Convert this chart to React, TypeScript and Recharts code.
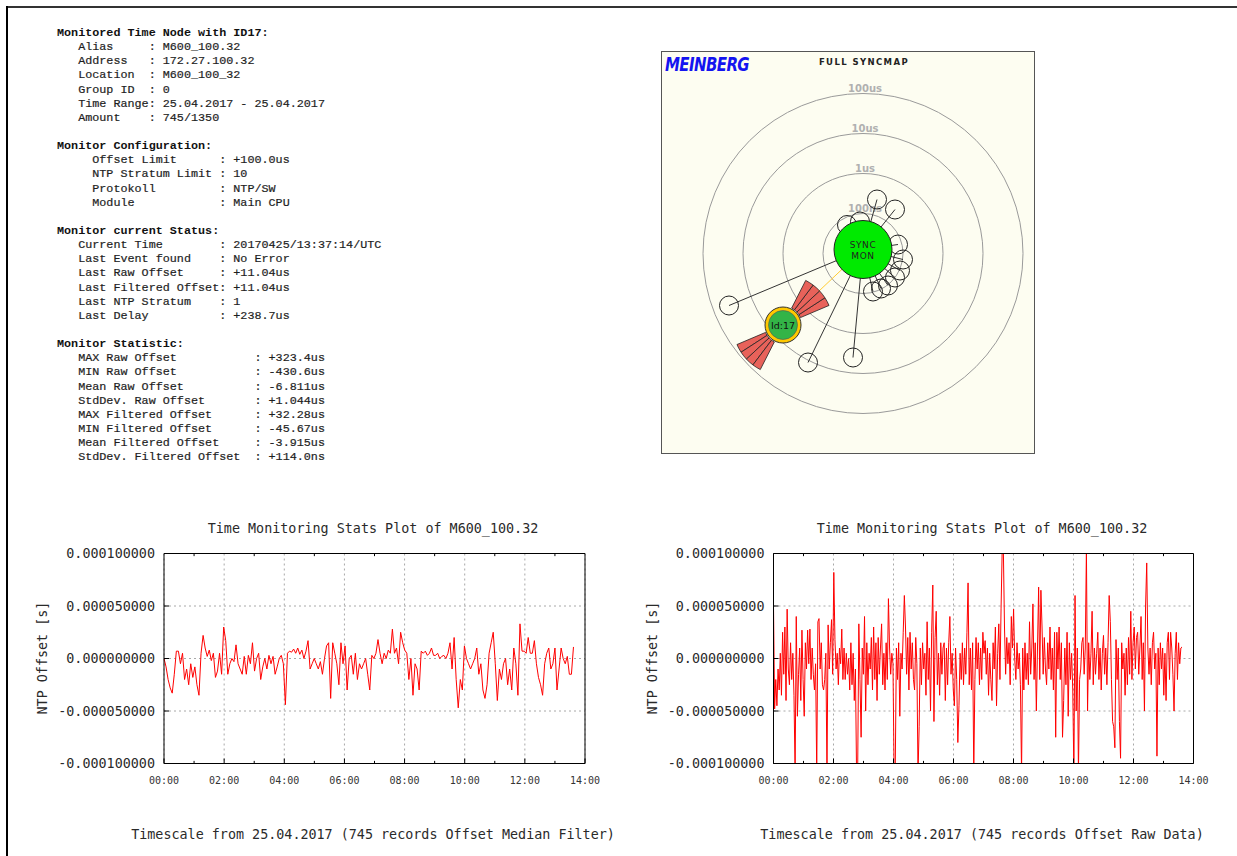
import React from 'react'
import {
  LineChart,
  Line,
  XAxis,
  YAxis,
  CartesianGrid,
  ReferenceLine,
  ScatterChart,
  Scatter,
  Sector,
} from 'recharts'

// ─── Data ───────────────────────────────────────────────────────────────────

// last record at 13:37 (see "Current Time")
const LAST_RECORD_HOURS = 13 + 37 / 60

const FILTERED_OFFSET_US = [
  0, -8, -20, -28, -33, -15, 7, 7, -5, 5,
  -20, -10, -25, -5, -18, -8, -25, -35, 5, 22,
  10, 2, 8, -2, 5, -18, -12, 5, -15, 30,
  17, -15, -5, 0, -3, 13, -5, -10, -15, 2,
  -15, 3, -5, 15, -12, 0, 5, -20, -8, 0,
  -10, 3, -5, 2, -15, -8, 0, 3, -5, -44,
  5, 7, 6, 9, 5, 10, 4, 8, 0, 7,
  17, -10, -5, 0, -5, -10, -3, -15, 0, 12,
  15, -38, 15, 5, -5, -25, 15, -5, 12, -30,
  0, 3, -15, 5, -20, -5, -10, -5, 0, -15,
  -30, 3, 0, 5, 18, 5, -5, 5, 0, 8,
  5, 28, 5, 10, -5, 25, 15, 8, 5, -20,
  0, -35, -5, -10, -30, 7, 5, 7, 3, 5,
  10, 3, 3, 5, 0, 2, 3, 0, 5, 15,
  -10, 20, -20, -47, -20, -30, 12, 0, -5, -10,
  -5, 0, 10, -15, -5, -30, -38, -25, 5, 15,
  25, -5, -40, -10, -20, -5, 0, -25, -10, -30,
  10, -5, -35, 33, 7, 7, 5, 20, 5, 5,
  17, -5, -18, -25, -35, -5, 5, 10, -10, -5,
  10, -30, -10, 10, 0, -5, 2, -15, -15, 11,
]

const RAW_OFFSET_US = [
  50, -48, -20, -45, -10, -30, 5, -35, 25, -15, 30, -40, 47, -10, -25,
  15, -20, 5, -35, -110, 40, -55, -15, 10, -40, 27, -20, -55, 15, -10,
  27, -5, 28, -20, 10, -15, -30, -5, -110, 35, 38, -10, 15, -25, -30,
  -20, 5, -110, 32, -10, 15, 37, -15, 82, 18, -10, 5, -25, 10, -5,
  28, -20, 10, -20, 5, -15, 0, -30, 15, -25, 5, -40, -10, -110, -105,
  33, -20, -75, 10, -15, 40, -50, 15, -25, 5, -10, 20, -30, 30, -20,
  15, -40, 20, -15, 10, 33, -25, 5, -30, 15, -20, 57, 10, -15, 5,
  -5, -110, -105, 10, -20, 15, -55, 5, -10, 25, 60, 30, -15, 20, -30,
  25, -10, 15, -20, -30, 20, -5, -110, -65, 10, -25, 15, -10, 5, -35,
  35, -20, 10, -50, 25, 70, -60, 20, 45, -25, 5, -35, 15, -15, 10,
  15, -40, 10, -25, 15, 40, -15, 5, -30, -45, 10, -20, -80, -45, 5,
  -20, 15, -25, 10, -15, 25, 72, -25, 10, -30, 15, -110, -20, 20, -10,
  15, -25, 10, -20, 25, 5, 17, -15, 10, -35, 5, -20, -40, 15, -10,
  30, -45, 5, 33, -20, 48, 105, 105, 30, -15, 20, -5, 15, -25, 40,
  10, 47, 0, -20, 15, -10, 5, -25, -110, 10, -30, 15, -20, 5, -25,
  35, -15, 10, 52, -20, 15, -50, 10, 68, -20, 65, 30, -15, 20, -10,
  -25, 15, -10, 30, -20, 10, -30, 25, -75, 25, -10, 30, -20, 15, -75,
  -40, 10, -25, 25, -55, 15, -20, 5, -30, -110, 60, -50, 10, -110, -20,
  -10, 15, 20, -15, 10, 105, -50, 15, -20, 5, 45, -25, 10, -15, 5,
  25, -20, 10, -30, 5, 22, -15, 10, -25, 15, 60, 35, -20, -60, -65,
  -85, 18, -20, 10, -60, -95, 15, -10, 5, -35, 10, -25, 20, -15, 45,
  -20, 15, 30, -10, 20, 25, -15, 10, 40, -20, 15, -50, 50, 91, 10,
  -15, 10, -25, 15, 25, -10, 5, -93, 10, -25, 15, -10, 10, -35, 5,
  -40, 15, 25, -20, 25, 10, -15, -50, 5, 25, -20, 15, -5, 10, 11,
]

const HOUR_TICKS = [0, 2, 4, 6, 8, 10, 12, 14]
const MINOR_HOURS = [1, 3, 5, 7, 9, 11, 13]
const OFFSET_TICKS_US = [-100, -50, 0, 50, 100]

// syncmap: rings (radius, label) and peer positions relative to the ring centre
const RING_RADII = [40, 80, 120, 160]
const RING_LABELS = ['100ns', '1us', '10us', '100us']
const PEER_X = [14, 32, -16, -3, 35, 40, 37, 32, 25, 18, 10, -134, -55, -10]
const PEER_Y = [54, 44, 28.5, 32, 9, -6, -17, -24, -32, -35, -38, -52, -109, -104]
const SYNC_POS = { x: 0, y: 4 }
const TARGET_POS = { x: -80, y: -71.5 }
const BOWTIE_EDGES = [23, 33, 43, 53, 63]

// ─── Text panel ─────────────────────────────────────────────────────────────

const INFO_LINES = [
  'Monitored Time Node with ID17:',
  '   Alias     : M600_100.32',
  '   Address   : 172.27.100.32',
  '   Location  : M600_100_32',
  '   Group ID  : 0',
  '   Time Range: 25.04.2017 - 25.04.2017',
  '   Amount    : 745/1350',
  '',
  'Monitor Configuration:',
  '     Offset Limit      : +100.0us',
  '     NTP Stratum Limit : 10',
  '     Protokoll         : NTP/SW',
  '     Module            : Main CPU',
  '',
  'Monitor current Status:',
  '   Current Time        : 20170425/13:37:14/UTC',
  '   Last Event found    : No Error',
  '   Last Raw Offset     : +11.04us',
  '   Last Filtered Offset: +11.04us',
  '   Last NTP Stratum    : 1',
  '   Last Delay          : +238.7us',
  '',
  'Monitor Statistic:',
  '   MAX Raw Offset           : +323.4us',
  '   MIN Raw Offset           : -430.6us',
  '   Mean Raw Offset          : -6.811us',
  '   StdDev. Raw Offset       : +1.044us',
  '   MAX Filtered Offset      : +32.28us',
  '   MIN Filtered Offset      : -45.67us',
  '   Mean Filtered Offset     : -3.915us',
  '   StdDev. Filtered Offset  : +114.0ns',
]

function InfoPanel() {
  return (
    <div
      style={{
        position: 'absolute',
        left: 57,
        top: 26,
        fontFamily: '"Liberation Mono", monospace',
        fontSize: 11.75,
        lineHeight: '14.15px',
        color: '#1e1e1e',
        whiteSpace: 'pre',
      }}
    >
      {INFO_LINES.map((line, i) => (
        <div
          key={i}
          style={{
            height: 14.15,
            fontWeight: line.startsWith('Monitor') ? 'bold' : 'normal',
            color: line.startsWith('Monitor') ? '#111' : '#1e1e1e',
            WebkitTextStroke: line.startsWith('Monitor') ? undefined : '0.2px #1e1e1e',
          }}
        >
          {line}
        </div>
      ))}
    </div>
  )
}

// ─── Syncmap ────────────────────────────────────────────────────────────────

const EmptyShape = () => <g />

// the chart area is sized so that one data unit is one pixel
// eslint-disable-next-line @typescript-eslint/no-explicit-any
function RingShape(props: any) {
  const { cx, cy, payload } = props
  return (
    <g>
      <circle cx={cx} cy={cy} r={payload.r} fill="none" stroke="#9a9a9a" strokeWidth={1} />
      <text
        x={cx + 2}
        y={cy - payload.r - 2}
        textAnchor="middle"
        fontSize={10}
        fontWeight="bold"
        fontFamily="DejaVu Sans"
        fill="#b0b0b0"
      >
        {payload.label}
      </text>
    </g>
  )
}

// eslint-disable-next-line @typescript-eslint/no-explicit-any
function PeerShape(props: any) {
  return <circle cx={props.cx} cy={props.cy} r={9.5} fill="none" stroke="#222" strokeWidth={1} />
}

// eslint-disable-next-line @typescript-eslint/no-explicit-any
function SyncShape(props: any) {
  const { cx, cy } = props
  return (
    <g>
      <circle cx={cx} cy={cy} r={29} fill="#00ea00" stroke="#222" strokeWidth={1} />
      <text x={cx} y={cy - 2} textAnchor="middle" fontSize={9} fontFamily="DejaVu Sans" letterSpacing={0.6} fill="#222">
        SYNC
      </text>
      <text x={cx} y={cy + 9} textAnchor="middle" fontSize={9} fontFamily="DejaVu Sans" letterSpacing={0.6} fill="#222">
        MON
      </text>
    </g>
  )
}

// eslint-disable-next-line @typescript-eslint/no-explicit-any
function TargetShape(props: any) {
  const { cx, cy } = props
  const segs = BOWTIE_EDGES.slice(0, -1)
  return (
    <g>
      {[0, 180].map((off) =>
        segs.map((a, k) => (
          <Sector
            key={`${off}-${k}`}
            cx={cx}
            cy={cy}
            innerRadius={19}
            outerRadius={50}
            startAngle={a + off}
            endAngle={BOWTIE_EDGES[k + 1] + off}
            fill="#e8625a"
            stroke="#222"
            strokeWidth={0.8}
          />
        ))
      )}
      <circle cx={cx} cy={cy} r={18} fill="#ffc800" stroke="#333" strokeWidth={1} />
      <circle cx={cx} cy={cy} r={14.5} fill="#33b447" stroke="#555" strokeWidth={0.6} />
      <text x={cx} y={cy + 3.5} textAnchor="middle" fontSize={9.5} fontFamily="DejaVu Sans" fill="#111">
        Id:17
      </text>
    </g>
  )
}

function SyncMap() {
  const rings = RING_RADII.map((r, i) => ({ x: 0, y: 0, r, label: RING_LABELS[i] }))
  const peers = PEER_X.map((x, i) => ({ x, y: PEER_Y[i] }))
  return (
    <div
      style={{
        position: 'absolute',
        left: 661,
        top: 51,
        width: 374,
        height: 403,
        boxSizing: 'border-box',
        border: '1px solid #555',
        background: '#fdfdf1',
      }}
    >
      <ScatterChart width={372} height={401} margin={{ top: 0, right: 0, bottom: 0, left: 0 }}>
        <XAxis type="number" dataKey="x" domain={[-201, 171]} hide allowDataOverflow />
        <YAxis type="number" dataKey="y" domain={[-199.5, 201.5]} hide allowDataOverflow />
        <Scatter data={rings} shape={RingShape} isAnimationActive={false} />
        {peers.map((p, i) => (
          <Scatter
            key={i}
            data={[SYNC_POS, p]}
            line={{ stroke: '#333', strokeWidth: 1 }}
            shape={EmptyShape}
            isAnimationActive={false}
          />
        ))}
        <Scatter
          data={[SYNC_POS, TARGET_POS]}
          line={{ stroke: '#ffcc33', strokeWidth: 1 }}
          shape={EmptyShape}
          isAnimationActive={false}
        />
        <Scatter data={peers} shape={PeerShape} isAnimationActive={false} />
        <Scatter data={[TARGET_POS]} shape={TargetShape} isAnimationActive={false} />
        <Scatter data={[SYNC_POS]} shape={SyncShape} isAnimationActive={false} />
      </ScatterChart>
      <div
        style={{
          position: 'absolute',
          left: 3,
          top: 1,
          fontFamily: '"DejaVu Sans", sans-serif',
          fontStyle: 'italic',
          fontWeight: 900,
          fontSize: 15,
          letterSpacing: -0.6,
          color: '#1414f0',
          transform: 'scaleY(1.25)',
          transformOrigin: 'left top',
        }}
      >
        MEINBERG
      </div>
      <div
        style={{
          position: 'absolute',
          left: 0,
          width: 404,
          top: 5,
          textAlign: 'center',
          fontFamily: '"DejaVu Sans", sans-serif',
          fontWeight: 'bold',
          fontSize: 8.5,
          letterSpacing: 1.4,
          color: '#222',
        }}
      >
        FULL SYNCMAP
      </div>
    </div>
  )
}

// ─── Offset plots ───────────────────────────────────────────────────────────

const MONO = '"DejaVu Sans Mono", monospace'

const toSeries = (values: number[]) => {
  const step = LAST_RECORD_HOURS / (values.length - 1)
  return values.map((v, i) => ({ t: i * step, v }))
}

const fmtHour = (h: number) => `${String(h).padStart(2, '0')}:00`
const fmtSeconds = (us: number) => (us * 1e-6).toFixed(9)

const plotText: React.CSSProperties = {
  position: 'absolute',
  fontFamily: MONO,
  fontSize: 13.4,
  lineHeight: '16px',
  color: '#2a2a2a',
  whiteSpace: 'nowrap',
  textAlign: 'center',
}

type PlotProps = {
  x0: number
  plotLeft: number
  plotRight: number
  values: number[]
  caption: string
}

function OffsetPlot({ x0, plotLeft, plotRight, values, caption }: PlotProps) {
  const W = 620
  const H = 300
  const TOP = 520
  const mid = (plotLeft + plotRight) / 2 - 1.5
  const data = toSeries(values)
  return (
    <>
      <div style={{ ...plotText, left: mid - 300, width: 600, top: 521 }}>
        Time Monitoring Stats Plot of M600_100.32
      </div>
      <div style={{ ...plotText, left: mid - 300, width: 600, top: 827 }}>{caption}</div>
      <div
        style={{
          ...plotText,
          left: plotLeft - 121 - 100,
          width: 200,
          top: 650,
          transform: 'rotate(-90deg)',
        }}
      >
        NTP Offset [s]
      </div>
      <div style={{ position: 'absolute', left: x0, top: TOP }}>
        <LineChart
          width={W}
          height={H}
          data={data}
          margin={{ top: 28.5, right: W - (plotRight - x0) - 10, bottom: 26.5, left: plotLeft - x0 - 100 }}
        >
          <CartesianGrid stroke="#a8a8a8" strokeDasharray="2 3" />
          <XAxis
            dataKey="t"
            type="number"
            domain={[0, 14]}
            ticks={HOUR_TICKS}
            interval={0}
            tickFormatter={fmtHour}
            height={30}
            tickSize={-5}
            tickMargin={18.5}
            axisLine={{ stroke: '#000' }}
            tickLine={{ stroke: '#000' }}
            tick={{ fontSize: 10, fill: '#333', fontFamily: MONO }}
            allowDataOverflow
          />
          <XAxis
            xAxisId="top"
            orientation="top"
            type="number"
            domain={[0, 14]}
            ticks={HOUR_TICKS}
            interval={0}
            height={5}
            tickSize={-5}
            tick={false}
            axisLine={{ stroke: '#000' }}
            tickLine={{ stroke: '#000' }}
          />
          <YAxis
            type="number"
            domain={[-100, 100]}
            ticks={OFFSET_TICKS_US}
            interval={0}
            tickFormatter={fmtSeconds}
            width={100}
            tickSize={-5}
            tickMargin={14}
            axisLine={{ stroke: '#000' }}
            tickLine={{ stroke: '#000' }}
            tick={{ fontSize: 13.4, fill: '#2a2a2a', fontFamily: MONO }}
            allowDataOverflow
          />
          <YAxis
            yAxisId="right"
            orientation="right"
            type="number"
            domain={[-100, 100]}
            ticks={OFFSET_TICKS_US}
            interval={0}
            width={10}
            tickSize={-5}
            tick={false}
            axisLine={{ stroke: '#000' }}
            tickLine={{ stroke: '#000' }}
          />
          {MINOR_HOURS.map((h) => (
            <ReferenceLine
              key={`b${h}`}
              segment={[
                { x: h, y: -100 },
                { x: h, y: -97.5 },
              ]}
              stroke="#000"
            />
          ))}
          {MINOR_HOURS.map((h) => (
            <ReferenceLine
              key={`t${h}`}
              segment={[
                { x: h, y: 100 },
                { x: h, y: 97.5 },
              ]}
              stroke="#000"
            />
          ))}
          <Line
            dataKey="v"
            type="linear"
            stroke="#ff0000"
            strokeWidth={1}
            dot={false}
            isAnimationActive={false}
          />
        </LineChart>
      </div>
    </>
  )
}

// ─── Main ───────────────────────────────────────────────────────────────────

export default function App() {
  return (
    <div
      style={{
        position: 'absolute',
        left: 0,
        top: 0,
        width: 1237,
        height: 856,
        background: '#fff',
        overflow: 'hidden',
      }}
    >
      <div style={{ position: 'absolute', left: 7, top: 6, width: 1230, height: 2, background: '#333' }} />
      <div style={{ position: 'absolute', left: 6, top: 6, width: 2, height: 850, background: '#000' }} />
      <InfoPanel />
      <SyncMap />
      <OffsetPlot
        x0={0}
        plotLeft={164}
        plotRight={585}
        values={FILTERED_OFFSET_US}
        caption="Timescale from 25.04.2017 (745 records Offset Median Filter)"
      />
      <OffsetPlot
        x0={610}
        plotLeft={773.5}
        plotRight={1193.5}
        values={RAW_OFFSET_US}
        caption="Timescale from 25.04.2017 (745 records Offset Raw Data)"
      />
    </div>
  )
}
